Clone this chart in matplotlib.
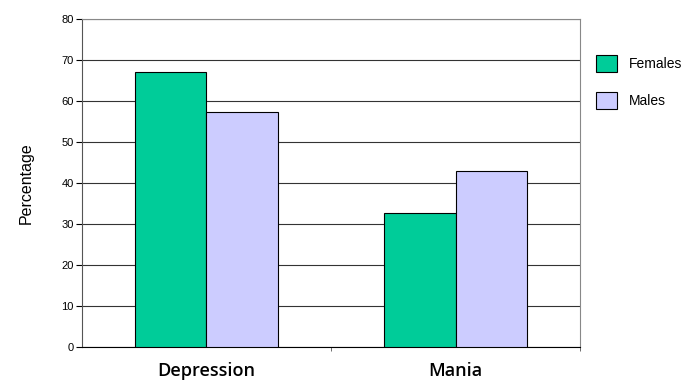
import matplotlib.pyplot as plt
import numpy as np
from matplotlib.patches import Patch

categories = ['Depression', 'Mania']
females = [67.1, 32.8]
males = [57.3, 42.9]
series_names = ['Females', 'Males']
colors = ['#00CC99', '#CCCCFF']

fig = plt.figure(figsize=(6.9, 3.81), dpi=100)
ax = fig.add_axes([0.1188, 0.0892, 0.7218, 0.8608])

x = np.arange(len(categories))
w = 0.289
ax.bar(x - w / 2, females, w, color=colors[0], edgecolor='black', linewidth=0.8, zorder=3)
ax.bar(x + w / 2, males, w, color=colors[1], edgecolor='black', linewidth=0.8, zorder=3)

ax.set_xlim(-0.5, 1.5)
ax.set_ylim(0, 80)
ax.set_yticks(range(0, 81, 10))
ax.yaxis.grid(True, color='#333333', linewidth=0.8, zorder=0)
ax.set_axisbelow(True)

# category labels centred under groups, ticks at group boundaries
ax.set_xticks(x)
ax.set_xticklabels(categories, fontfamily=['Open Sans', 'DejaVu Sans'], fontsize=13, fontweight=600)
ax.set_xticks([0.5, 1.5], minor=True)
ax.tick_params(axis='x', which='major', length=0, pad=11)
ax.tick_params(axis='x', which='minor', length=3, color='#555555')
ax.tick_params(axis='y', length=4, labelsize=8, pad=2)
for lbl in ax.get_yticklabels():
    lbl.set_fontfamily('Liberation Sans')

for side in ['top', 'right']:
    ax.spines[side].set_color('#888888')
ax.spines['left'].set_color('#555555')
ax.spines['bottom'].set_color('black')

ax.set_ylabel('Percentage', fontfamily='Liberation Sans', fontsize=11.5, labelpad=20)

handles = [Patch(facecolor=c, edgecolor='black', linewidth=0.8) for c in colors]
fig.legend(handles, series_names, loc='upper left', bbox_to_anchor=(0.8455, 0.888),
           frameon=False, prop={'family': 'Liberation Sans', 'size': 10},
           handlelength=1.5, handleheight=1.5, labelspacing=1.44, handletextpad=0.9,
           borderpad=0.4)

fig.savefig('out.png', dpi=100)
